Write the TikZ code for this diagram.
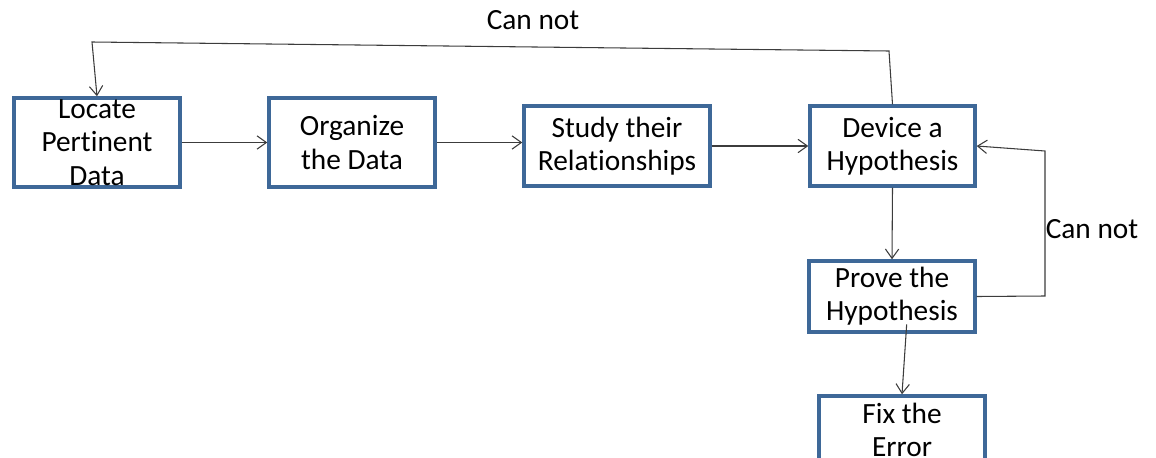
\documentclass[tikz,border=0pt]{standalone}
\usepackage{fontspec}
\setmainfont{Carlito}[Ligatures=NoCommon]
\usetikzlibrary{arrows.meta}
\definecolor{boxblue}{RGB}{62,104,152}
\definecolor{linegray}{RGB}{60,60,60}

\begin{document}
\begin{tikzpicture}[x=0.75pt, y=-0.75pt,
  stepbox/.style={draw=boxblue, line width=2.6pt, fill=white, align=center,
    inner sep=0pt, font=\fontsize{22}{25}\selectfont},
  boxsize/.style 2 args={minimum width=#1*0.75pt, minimum height=#2*0.75pt},
  flow/.style={draw=linegray, line width=0.8pt, -{Straight Barb[length=7pt,width=10pt]}},
  lbl/.style={font=\fontsize{22}{25}\selectfont}]
\useasboundingbox (0,0) rectangle (1156,457);
\clip (0,0) rectangle (1156,457);
% caselle del processo
\node[stepbox, boxsize={166}{89}] (locate) at (97,142.5) {Locate\\Pertinent\\Data};
\node[stepbox, boxsize={166}{89}] (organize) at (352,142.5) {Organize\\the Data};
\node[stepbox, boxsize={186}{80}] (study) at (617,146) {Study their\\Relationships};
\node[stepbox, boxsize={165}{80}] (device) at (892.5,146) {Device a\\Hypothesis};
\node[stepbox, boxsize={166}{71}] (prove) at (892,296.5) {Prove the\\Hypothesis};
\node[stepbox, boxsize={166}{68}] (fix) at (902,430) {Fix the\\Error};
% catena principale
\draw[flow] (locate.east) -- (organize.west |- locate.east);
\draw[flow] (organize.east) -- (organize.east -| study.west);
\draw[flow] (study.east) -- (device.west);
\draw[flow] (device.south) -- (prove.north);
\draw[flow] ([xshift=11pt, yshift=7pt]prove.south) -- (fix.north);
% ritorno in alto
\coordinate (topR) at (889,51);
\coordinate (topL) at (92,42);
\draw[flow] (device.north) -- (topR) -- (topL) -- (locate.north);
\node[lbl] (cannotTop) at (533,20) {Can not};
% ritorno a destra
\coordinate (rgtB) at (1045,296);
\coordinate (rgtT) at (1045,151);
\draw[flow] (prove.east) -- (rgtB) -- (rgtT) -- (device.east);
\node[lbl] (cannotRgt) at (1092,229) {Can not};
\end{tikzpicture}
\end{document}
